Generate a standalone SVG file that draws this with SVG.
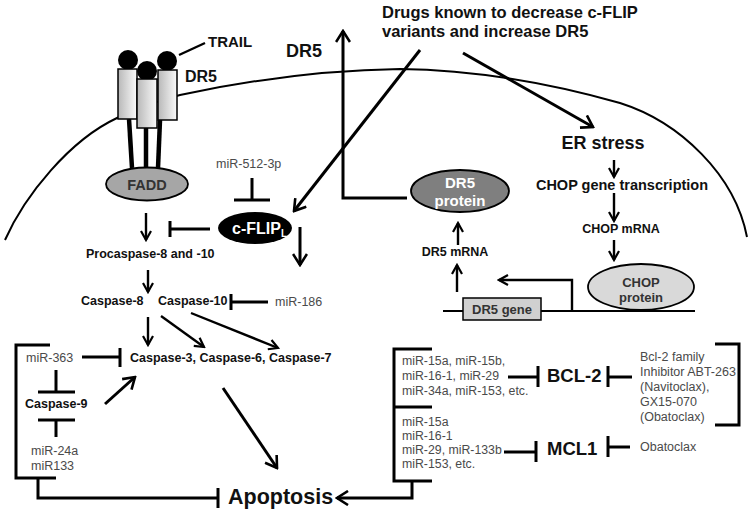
<svg xmlns="http://www.w3.org/2000/svg" width="754" height="519" viewBox="0 0 754 519">
<defs>
<linearGradient id="rg" x1="0" y1="0" x2="1" y2="0">
<stop offset="0" stop-color="#b8b8b8"/>
<stop offset="1" stop-color="#fafafa"/>
</linearGradient>
<marker id="ab" viewBox="0 0 14 16" refX="12" refY="8" markerWidth="14" markerHeight="16" markerUnits="userSpaceOnUse" orient="auto">
<path d="M1,1 L12,8 L1,15" fill="none" stroke="#000" stroke-width="2.6"/>
</marker>
<marker id="as" viewBox="0 0 12 12" refX="10" refY="6" markerWidth="12" markerHeight="12" markerUnits="userSpaceOnUse" orient="auto">
<path d="M1,1 L10,6 L1,11" fill="none" stroke="#000" stroke-width="2.2"/>
</marker>
</defs>
<style>
.b{font-family:"Liberation Sans",Arial,sans-serif;font-weight:bold;fill:#111}
.r{font-family:"Liberation Sans",Arial,sans-serif;fill:#4a4a4a}
.c line,.c path{stroke:#000;fill:none}
.t{stroke-width:3}
.s{stroke-width:2.4}
.m{stroke-width:3}
.big{marker-end:url(#ab)}
.sm{marker-end:url(#as)}
</style>
<g id="membrane">
<path d="M5,240 C25,195 70,140 117,118 C140,107 160,100 180,95 C250,80 330,70 400,69 C480,70 560,86 620,103 C680,122 735,175 747,237" fill="none" stroke="#000" stroke-width="2"/>
</g>
<g id="receptor">
<line x1="129" y1="119" x2="132" y2="168" stroke="#000" stroke-width="4.5"/>
<line x1="146" y1="128" x2="146" y2="168" stroke="#000" stroke-width="4.5"/>
<line x1="160" y1="120" x2="158" y2="168" stroke="#000" stroke-width="4.5"/>
<circle cx="128" cy="60" r="10" fill="#000"/>
<circle cx="167" cy="61" r="10" fill="#000"/>
<circle cx="147" cy="71" r="10" fill="#000"/>
<rect x="118" y="69" width="19" height="50" fill="url(#rg)" stroke="#000" stroke-width="1.5"/>
<rect x="158" y="70" width="19" height="50" fill="url(#rg)" stroke="#000" stroke-width="1.5"/>
<rect x="137" y="79" width="20" height="49" fill="url(#rg)" stroke="#000" stroke-width="1.5"/>
</g>
<g id="fadd">
<ellipse cx="147" cy="184" rx="41" ry="16.5" fill="#a6a6a6" stroke="#000" stroke-width="1.8"/>
<text class="b" x="147" y="190" font-size="14.5" text-anchor="middle" style="fill:#333">FADD</text>
</g>
<g id="cflip">
<ellipse cx="255" cy="228" rx="37" ry="16" fill="#000"/>
<text class="b" x="232" y="234" font-size="16" style="fill:#fff">c-FLIP<tspan font-size="10" dy="3">L</tspan></text>
</g>
<g id="dr5protein">
<ellipse cx="460" cy="191" rx="49" ry="21" fill="#7f7f7f" stroke="#000" stroke-width="1.8"/>
<text class="b" x="460" y="188" font-size="15" text-anchor="middle" style="fill:#fff">DR5</text>
<text class="b" x="460" y="206" font-size="15" text-anchor="middle" style="fill:#fff">protein</text>
</g>
<g id="chopprotein">
<ellipse cx="641" cy="287" rx="53" ry="23" fill="#d9d9d9" stroke="#000" stroke-width="1.8"/>
<text class="b" x="641" y="287" font-size="13" text-anchor="middle" style="fill:#333">CHOP</text>
<text class="b" x="641" y="302" font-size="13" text-anchor="middle" style="fill:#333">protein</text>
</g>
<g id="dr5gene">
<line x1="443" y1="311" x2="695" y2="311" stroke="#000" stroke-width="2"/>
<rect x="463" y="298" width="78" height="22" fill="#d0d0d0" stroke="#000" stroke-width="1.5"/>
<text class="b" x="502" y="314" font-size="13" text-anchor="middle" style="fill:#333">DR5 gene</text>
</g>
<g id="labels">
<text class="b" x="208" y="47" font-size="15">TRAIL</text>
<text class="b" x="286" y="57" font-size="18">DR5</text>
<text class="b" x="185" y="82" font-size="16">DR5</text>
<text class="b" x="382" y="18" font-size="16.5">Drugs known to decrease c-FLIP</text>
<text class="b" x="382" y="37" font-size="16.5">variants and increase DR5</text>
<text class="b" x="603" y="149" font-size="18" text-anchor="middle">ER stress</text>
<text class="b" x="622" y="190" font-size="14.5" text-anchor="middle">CHOP gene transcription</text>
<text class="b" x="621" y="233" font-size="12.5" text-anchor="middle">CHOP mRNA</text>
<text class="b" x="455" y="256" font-size="12.5" text-anchor="middle">DR5 mRNA</text>
<text class="r" x="216" y="168" font-size="12.5">miR-512-3p</text>
<text class="b" x="86" y="258" font-size="12.5">Procaspase-8 and -10</text>
<text class="b" x="81" y="305" font-size="12.5">Caspase-8</text>
<text class="b" x="158" y="305" font-size="12.5">Caspase-10</text>
<text class="r" x="275" y="306" font-size="12.5">miR-186</text>
<text class="b" x="130" y="362" font-size="12.5">Caspase-3, Caspase-6, Caspase-7</text>
<text class="r" x="26" y="362" font-size="12.5">miR-363</text>
<text class="b" x="25" y="408" font-size="12.5">Caspase-9</text>
<text class="r" x="31" y="455" font-size="12.5">miR-24a</text>
<text class="r" x="31" y="470" font-size="12.5">miR133</text>
<text class="b" x="228" y="504" font-size="21.5">Apoptosis</text>
<text class="r" x="402" y="365" font-size="12.3">miR-15a, miR-15b,</text>
<text class="r" x="402" y="380" font-size="12.3">miR-16-1, miR-29</text>
<text class="r" x="402" y="395" font-size="12.3">miR-34a, miR-153, etc.</text>
<text class="b" x="547" y="382" font-size="18.5">BCL-2</text>
<text class="r" x="640" y="361" font-size="12.5">Bcl-2 family</text>
<text class="r" x="640" y="376" font-size="12.5">Inhibitor ABT-263</text>
<text class="r" x="640" y="391" font-size="12.5">(Navitoclax),</text>
<text class="r" x="640" y="406" font-size="12.5">GX15-070</text>
<text class="r" x="640" y="421" font-size="12.5">(Obatoclax)</text>
<text class="r" x="402" y="426" font-size="12.3">miR-15a</text>
<text class="r" x="402" y="440" font-size="12.3">miR-16-1</text>
<text class="r" x="402" y="454" font-size="12.3">miR-29, miR-133b</text>
<text class="r" x="402" y="468" font-size="12.3">miR-153, etc.</text>
<text class="b" x="547" y="455" font-size="18.5">MCL1</text>
<text class="r" x="640" y="451" font-size="12.5">Obatoclax</text>
</g>
<g id="connectors" class="c">
<line class="s" x1="179" y1="55" x2="205" y2="43"/>
<path class="t big" d="M407,198 H343 V31"/>
<line class="t big" x1="420" y1="50" x2="294" y2="211"/>
<line class="t big" x1="463" y1="53" x2="593" y2="127"/>
<line class="s sm" x1="614" y1="160" x2="614" y2="177"/>
<line class="s sm" x1="614" y1="193" x2="614" y2="221"/>
<line class="s sm" x1="614" y1="240" x2="614" y2="260"/>
<path class="s sm" d="M572,311 V280 H499"/>
<line class="s sm" x1="457" y1="292" x2="457" y2="265"/>
<line class="s sm" x1="458" y1="245" x2="458" y2="223"/>
<line class="s sm" x1="146" y1="213" x2="146" y2="240"/>
<line class="m" x1="210" y1="229" x2="170" y2="229"/>
<line class="m" x1="170" y1="221" x2="170" y2="237"/>
<line class="m" x1="252" y1="178" x2="252" y2="200"/>
<line class="m" x1="234" y1="200" x2="270" y2="200"/>
<line class="t big" x1="300" y1="227" x2="300" y2="265"/>
<line class="s sm" x1="148" y1="270" x2="148" y2="292"/>
<line class="m" x1="268" y1="302" x2="231" y2="302"/>
<line class="m" x1="231" y1="294" x2="231" y2="310"/>
<line class="s sm" x1="148" y1="317" x2="148" y2="345"/>
<line class="s sm" x1="161" y1="316" x2="204" y2="347"/>
<line class="s sm" x1="191" y1="313" x2="278" y2="348"/>
<line class="m" x1="82" y1="357" x2="120" y2="357"/>
<line class="m" x1="120" y1="348" x2="120" y2="367"/>
<line class="m" x1="56" y1="370" x2="56" y2="392"/>
<line class="m" x1="38" y1="392" x2="75" y2="392"/>
<line class="m" x1="56" y1="437" x2="56" y2="420"/>
<line class="m" x1="38" y1="420" x2="75" y2="420"/>
<line class="t big" x1="105" y1="404" x2="135" y2="377"/>
<path class="m" d="M50,345 H16 V478 H56"/>
<path class="m" d="M38,478 V498 H218"/>
<line class="m" x1="218" y1="488" x2="218" y2="508"/>
<line class="t big" x1="223" y1="388" x2="277" y2="468"/>
<path class="m" d="M432,349 H394 V481 H432"/>
<line class="m" x1="394" y1="407" x2="432" y2="407"/>
<path class="t big" d="M412,481 V498 H337"/>
<line class="m" x1="508" y1="377" x2="538" y2="377"/>
<line class="m" x1="538" y1="366" x2="538" y2="387"/>
<line class="m" x1="632" y1="377" x2="608" y2="377"/>
<line class="m" x1="608" y1="366" x2="608" y2="387"/>
<path class="m" d="M715,344 H739 V425 H715"/>
<line class="m" x1="504" y1="452" x2="536" y2="452"/>
<line class="m" x1="536" y1="441" x2="536" y2="462"/>
<line class="m" x1="630" y1="447" x2="608" y2="447"/>
<line class="m" x1="608" y1="436" x2="608" y2="457"/>
</g>
</svg>
